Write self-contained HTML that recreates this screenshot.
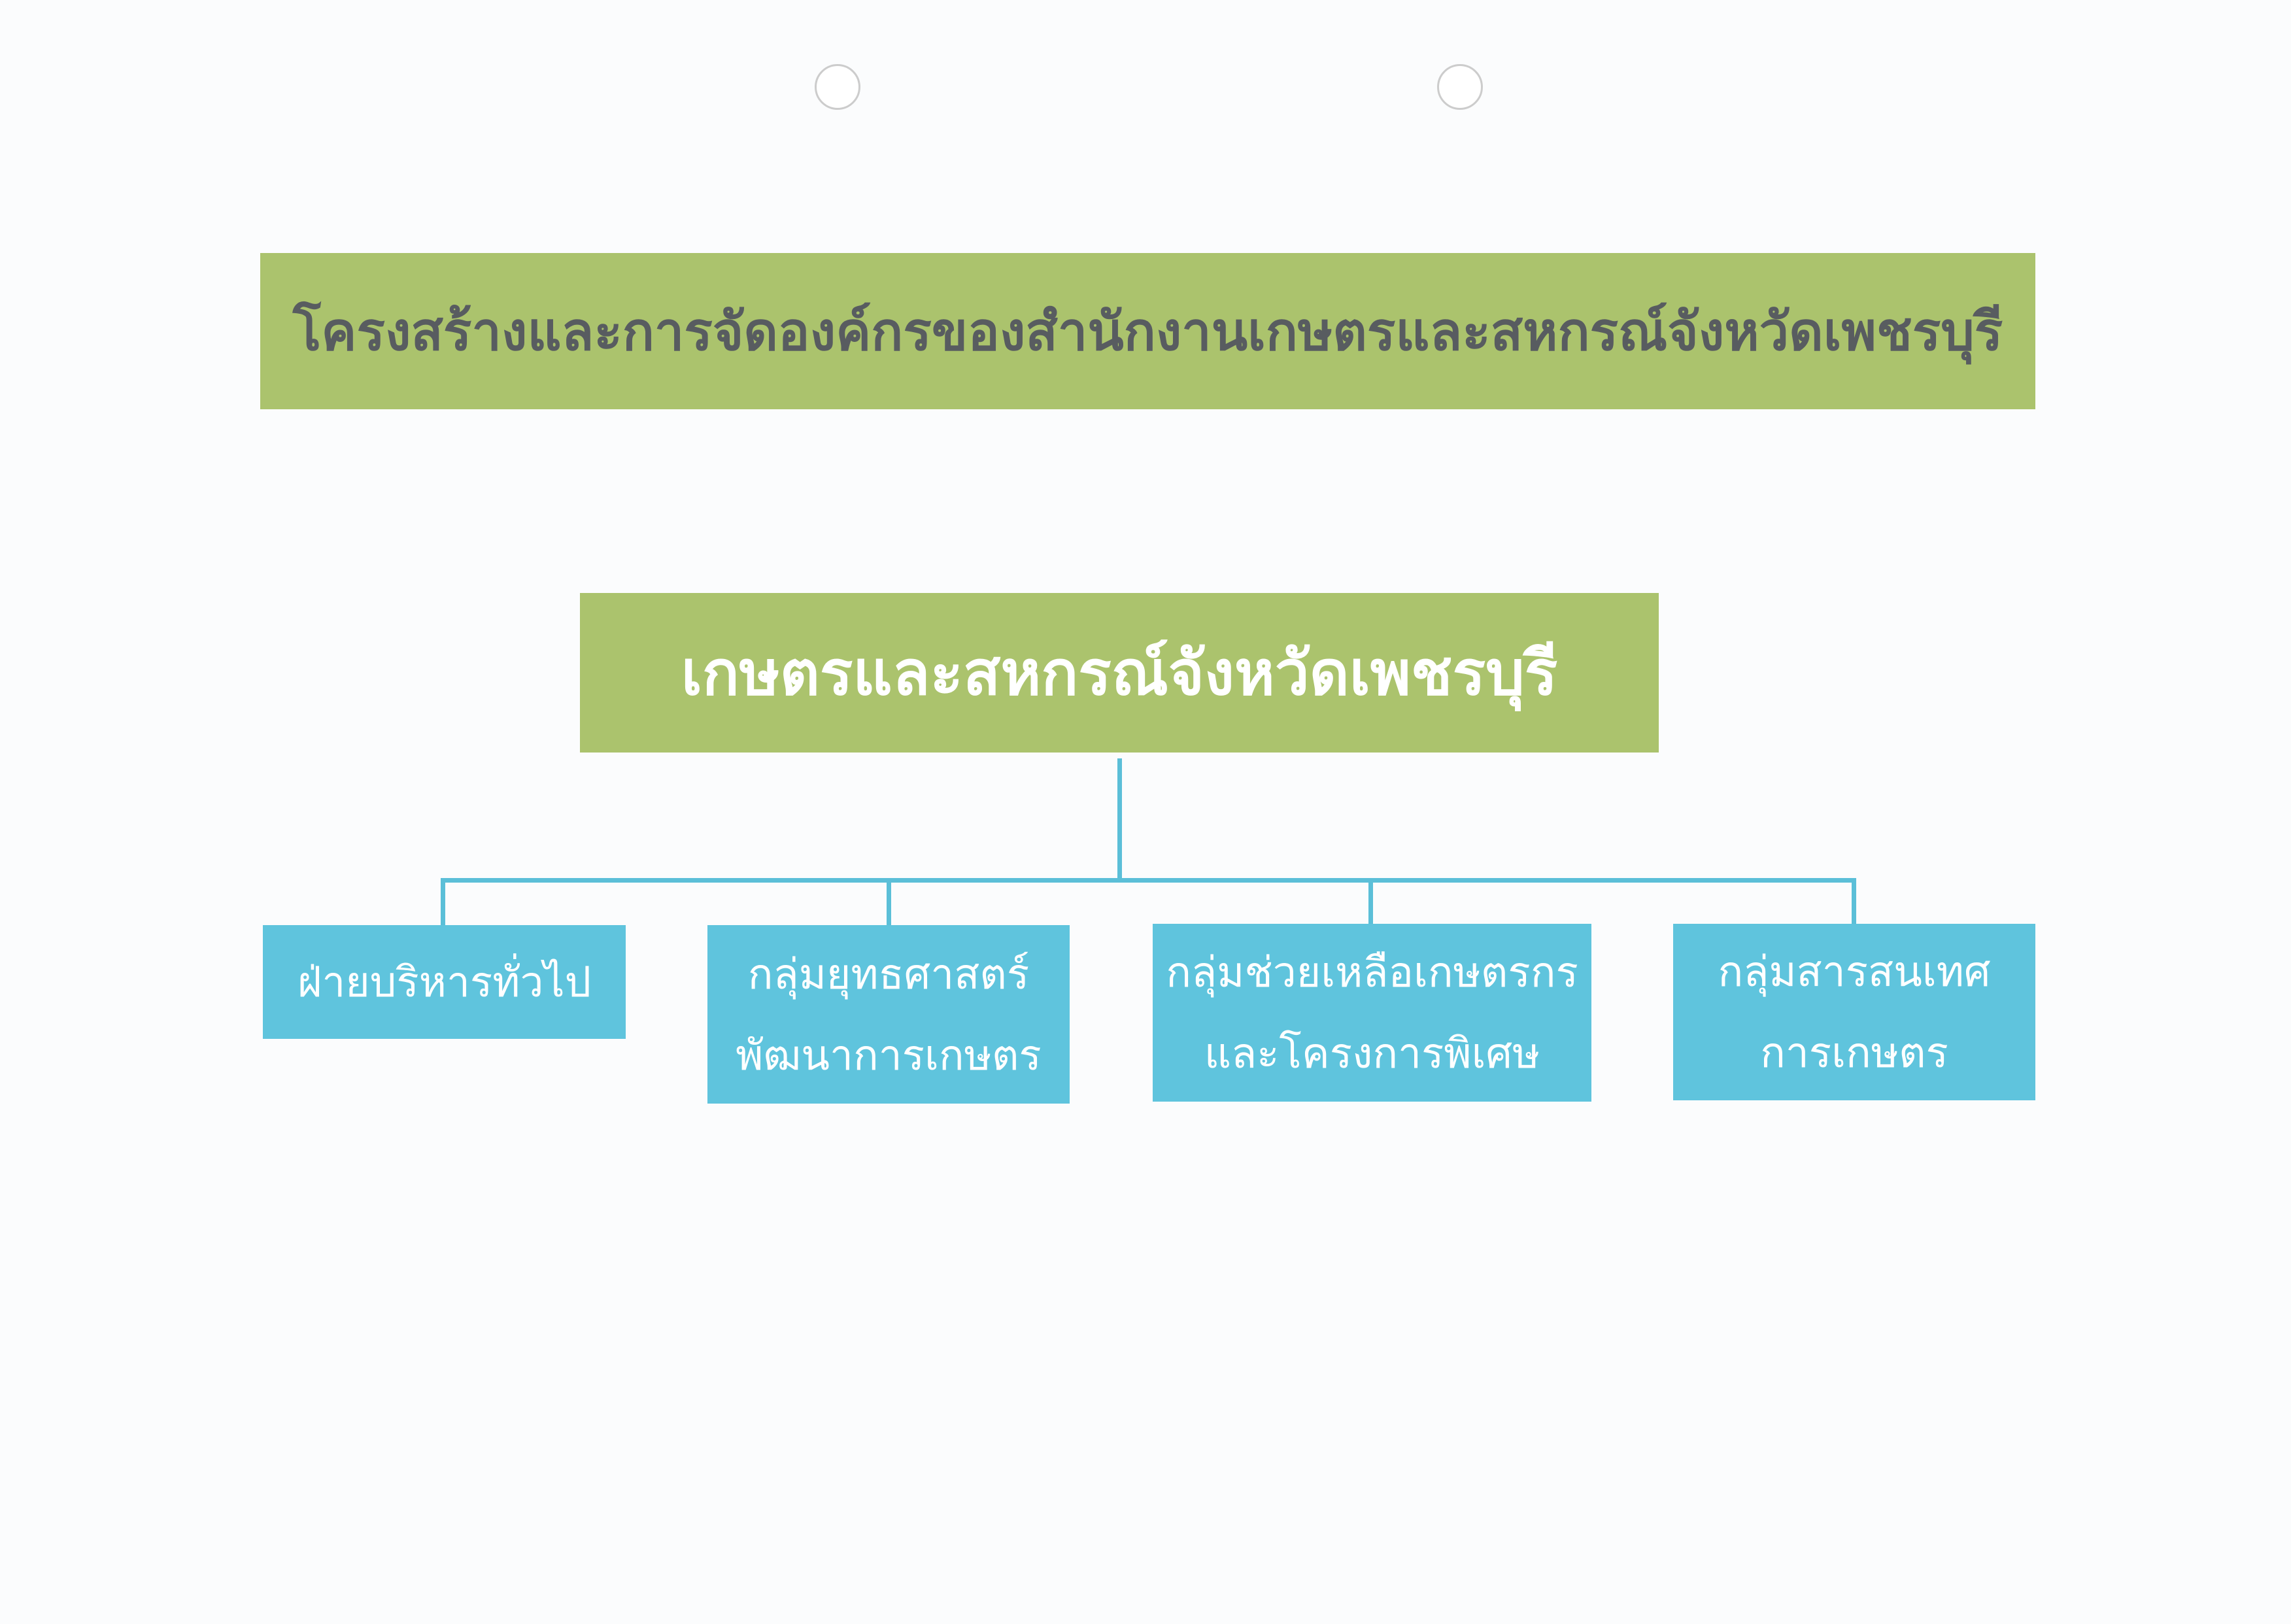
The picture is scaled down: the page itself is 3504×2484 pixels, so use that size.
<!DOCTYPE html>
<html><head><meta charset="utf-8"><style>
body{margin:0;width:3504px;height:2484px;background:#fbfcfd;position:relative;overflow:hidden;font-family:"Liberation Sans","DejaVu Sans",sans-serif}
.b{position:absolute;display:flex;align-items:center;justify-content:center;text-align:center;box-sizing:border-box}
.g{background:#abc36d}
.c{background:#5fc4dd;color:#fff;font-size:64px;line-height:124px}
.l{position:absolute;background:#5bbfd8}
.h{position:absolute;width:64px;height:64px;border-radius:50%;border:3px solid #ccc;background:#fff}
</style></head><body>
<div class="h" style="left:1246px;top:98px"></div>
<div class="h" style="left:2198px;top:98px"></div>
<div class="b g" style="left:398px;top:387px;width:2715px;height:239px;color:#585c60;font-size:81px;font-weight:bold;white-space:nowrap">โครงสร้างและการจัดองค์กรของสำนักงานเกษตรและสหกรณ์จังหวัดเพชรบุรี</div>
<div class="b g" style="left:887px;top:907px;width:1650px;height:244px;color:#fff;font-size:94px;font-weight:bold">เกษตรและสหกรณ์จังหวัดเพชรบุรี</div>
<div class="l" style="left:1709px;top:1160px;width:7px;height:190px"></div>
<div class="l" style="left:674px;top:1343px;width:2165px;height:7px"></div>
<div class="l" style="left:674px;top:1343px;width:7px;height:72px"></div>
<div class="l" style="left:1356px;top:1343px;width:7px;height:72px"></div>
<div class="l" style="left:2093px;top:1343px;width:7px;height:72px"></div>
<div class="l" style="left:2832px;top:1343px;width:7px;height:72px"></div>
<div class="b c" style="left:402px;top:1415px;width:555px;height:174px">ฝ่ายบริหารทั่วไป</div>
<div class="b c" style="left:1082px;top:1415px;width:554px;height:273px">กลุ่มยุทธศาสตร์<br>พัฒนาการเกษตร</div>
<div class="b c" style="left:1763px;top:1413px;width:671px;height:272px">กลุ่มช่วยเหลือเกษตรกร<br>และโครงการพิเศษ</div>
<div class="b c" style="left:2559px;top:1413px;width:554px;height:270px">กลุ่มสารสนเทศ<br>การเกษตร</div>
</body></html>
